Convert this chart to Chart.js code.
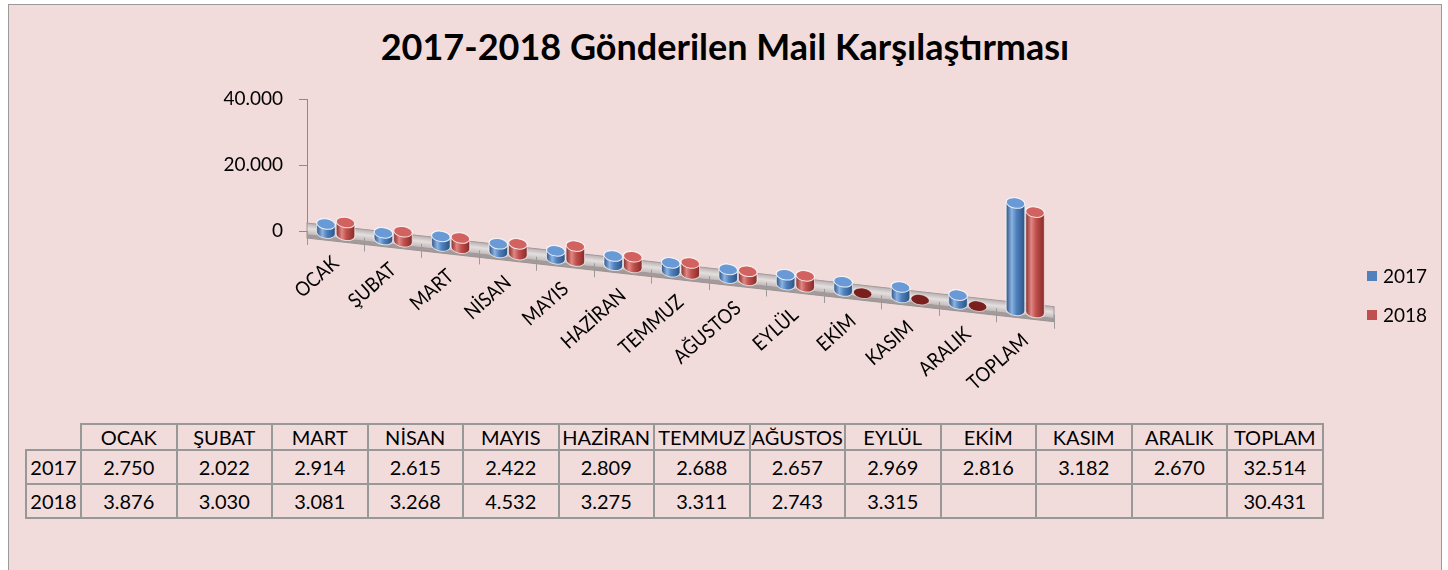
<!DOCTYPE html>
<html lang="tr">
<head>
<meta charset="utf-8">
<script src="https://cdn.jsdelivr.net/npm/chart.js@4/dist/chart.umd.min.js"></script>
<style>
    html, body { margin: 0; padding: 0; background: #ffffff; }
    body { width: 1448px; height: 570px; position: relative; overflow: hidden; font-family: Lato, sans-serif; }
    #cerceve { position: absolute; left: 8px; top: 4px; width: 1434px; height: 600px; background: #F2DCDB; border: 1px solid #9a9a9a; box-sizing: border-box; }
    #baslik { position: absolute; left: 0; width: 1450px; top: 24px; text-align: center; font-size: 36px; font-weight: bold; line-height: 44px; color: #000; }
    #grafik { position: absolute; left: 0; top: 0; }
    #lejant { position: absolute; left: 1367px; top: 256px; font-size: 19px; color: #000; }
    .lejant-satir { height: 39px; display: flex; align-items: center; }
    .lejant-kutu { width: 10px; height: 10px; margin-right: 6px; }
    #tablo { position: absolute; left: 25px; top: 423px; border-collapse: collapse; table-layout: fixed; font-size: 20px; color: #000; }
    #tablo td { border: 2px solid #989898; text-align: center; padding: 0; white-space: nowrap; overflow: hidden; }
    #tablo tr.baslik td { height: 24px; }
    #tablo tr.veri td { height: 32px; }
    #tablo td.bos { border-top: none; border-left: none; }
</style>
</head>
<body>
<div id="cerceve"></div>
<div id="baslik">2017-2018 Gönderilen Mail Karşılaştırması</div>
<canvas id="grafik" width="1448" height="420"></canvas>
<div id="lejant"></div>
<table id="tablo"></table>

<script>
// aylik gonderilen mail sayilari (tablodan okundu)
const kategoriler = ["OCAK", "ŞUBAT", "MART", "NİSAN", "MAYIS", "HAZİRAN", "TEMMUZ", "AĞUSTOS", "EYLÜL", "EKİM", "KASIM", "ARALIK", "TOPLAM"];
const mail2017 = [2750, 2022, 2914, 2615, 2422, 2809, 2688, 2657, 2969, 2816, 3182, 2670, 32514];
const mail2018 = [3876, 3030, 3081, 3268, 4532, 3275, 3311, 2743, 3315, null, null, null, 30431];
const yillar = ["2017", "2018"];
const yTikleri = [0, 20000, 40000];

const renkler = [
    { ana: "#4F81BD", acik: "#8DB3E2", koyu: "#2C5385", kapak: "#6A9AD6" },
    { ana: "#C0504D", acik: "#E08784", koyu: "#862B29", kapak: "#D2625F" }
];

// 3B zemin egimi
const EGIM = 0.112;

function sayiBicimle(deger) {
    if (deger === null || deger === undefined) return "";
    return String(deger).replace(/\B(?=(\d{3})+(?!\d))/g, ".");
}

function zeminCiz(ctx, alan) {
    const ust = alan.bottom - 8;
    const alt = alan.bottom + 3;
    const g = ctx.createLinearGradient(0, ust, 0, alt);
    g.addColorStop(0, "#b9b0b0");
    g.addColorStop(0.5, "#e4dede");
    g.addColorStop(1, "#c4bcbc");
    ctx.fillStyle = g;
    ctx.fillRect(alan.left, ust, alan.right - alan.left, alt - ust);
    ctx.fillStyle = "#a39b9b";
    ctx.fillRect(alan.left, alt, alan.right - alan.left, 4);
    ctx.strokeStyle = "#9d9595";
    ctx.lineWidth = 1;
    ctx.strokeRect(alan.left, ust, alan.right - alan.left, alt + 4 - ust);
}

function silindirCiz(ctx, x, w, ust, taban, renk) {
    const r = w / 2;
    const ry = w * 0.28;
    const g = ctx.createLinearGradient(x - r, 0, x + r, 0);
    g.addColorStop(0, renk.koyu);
    g.addColorStop(0.3, renk.acik);
    g.addColorStop(0.55, renk.ana);
    g.addColorStop(1, renk.koyu);

    ctx.beginPath();
    ctx.moveTo(x - r, ust);
    ctx.lineTo(x - r, taban);
    ctx.ellipse(x, taban, r, ry, 0, Math.PI, 0, true);
    ctx.lineTo(x + r, ust);
    ctx.ellipse(x, ust, r, ry, 0, 0, Math.PI, true);
    ctx.closePath();
    ctx.fillStyle = g;
    ctx.fill();
    ctx.strokeStyle = "rgba(255,255,255,0.7)";
    ctx.lineWidth = 1;
    ctx.stroke();

    ctx.beginPath();
    ctx.ellipse(x, ust, r, ry, 0, 0, Math.PI * 2);
    ctx.fillStyle = renk.kapak;
    ctx.fill();
    ctx.strokeStyle = "rgba(255,255,255,0.85)";
    ctx.stroke();
}

function diskCiz(ctx, x, w, taban) {
    ctx.beginPath();
    ctx.ellipse(x, taban, w / 2, w * 0.28, 0, 0, Math.PI * 2);
    ctx.fillStyle = "#7a1f1e";
    ctx.fill();
    ctx.strokeStyle = "rgba(255,255,255,0.6)";
    ctx.lineWidth = 1;
    ctx.stroke();
}

const silindirPlugin = {
    id: "silindir",
    beforeDatasetsDraw(chart) {
        const { ctx, chartArea } = chart;
        ctx.save();
        ctx.transform(1, EGIM, 0, 1, 0, -EGIM * chartArea.left);
        zeminCiz(ctx, chartArea);
    },
    afterDatasetsDraw(chart) {
        const ctx = chart.ctx;
        const taban = chart.scales.y.getPixelForValue(0);
        chart.data.datasets.forEach((ds, i) => {
            chart.getDatasetMeta(i).data.forEach((bar, j) => {
                if (ds.data[j] === null) {
                    diskCiz(ctx, bar.x, bar.width, taban);
                } else {
                    silindirCiz(ctx, bar.x, bar.width, bar.y, taban, renkler[i]);
                }
            });
        });
    },
    afterDraw(chart) {
        chart.ctx.restore();
    }
};

function lejantOlustur() {
    const lejant = document.getElementById("lejant");
    yillar.forEach((yil, i) => {
        const satir = document.createElement("div");
        satir.className = "lejant-satir";
        satir.innerHTML = '<span class="lejant-kutu" style="background:' + renkler[i].ana + '"></span>' + yil;
        lejant.appendChild(satir);
    });
}

function tabloOlustur() {
    const tablo = document.getElementById("tablo");
    const colgroup = document.createElement("colgroup");
    colgroup.innerHTML = '<col style="width:55px">' + kategoriler.map(() => '<col style="width:95.5px">').join("");
    tablo.appendChild(colgroup);

    const baslik = document.createElement("tr");
    baslik.className = "baslik";
    baslik.innerHTML = '<td class="bos"></td>' + kategoriler.map(k => "<td>" + k + "</td>").join("");
    tablo.appendChild(baslik);

    [mail2017, mail2018].forEach((seri, i) => {
        const tr = document.createElement("tr");
        tr.className = "veri";
        tr.innerHTML = "<td>" + yillar[i] + "</td>" + seri.map(v => "<td>" + sayiBicimle(v) + "</td>").join("");
        tablo.appendChild(tr);
    });
}

function grafikCiz() {
    const ctx = document.getElementById("grafik");
    new Chart(ctx, {
        type: "bar",
        data: {
            labels: kategoriler,
            datasets: [
                { label: yillar[0], data: mail2017, backgroundColor: renkler[0].ana },
                { label: yillar[1], data: mail2018, backgroundColor: renkler[1].ana }
            ]
        },
        options: {
            responsive: false,
            animation: false,
            devicePixelRatio: 1,
            categoryPercentage: 0.68,
            barPercentage: 0.95,
            layout: { padding: { left: 197, right: 394, top: 99, bottom: 89 } },
            plugins: {
                legend: { display: false },
                tooltip: { enabled: false },
                title: { display: false }
            },
            scales: {
                x: {
                    afterFit: scale => { scale.height = 100; },
                    grid: { display: true, drawOnChartArea: false, drawTicks: true, tickLength: 14, color: "#9a9a9a", z: 1 },
                    border: { display: false, z: 1 },
                    ticks: {
                        autoSkip: false,
                        minRotation: 45,
                        maxRotation: 45,
                        padding: 4,
                        color: "#000",
                        font: { family: "Lato", size: 19 },
                        z: 1
                    }
                },
                y: {
                    min: yTikleri[0],
                    max: yTikleri[yTikleri.length - 1],
                    afterFit: scale => { scale.width = 110; },
                    afterBuildTicks: scale => { scale.ticks = yTikleri.map(v => ({ value: v })); },
                    grid: { display: true, drawOnChartArea: false, drawTicks: true, tickLength: 8, color: "#8a8a8a" },
                    border: { display: true, color: "#8a8a8a" },
                    ticks: {
                        padding: 16,
                        color: "#000",
                        font: { family: "Lato", size: 19 },
                        callback: v => sayiBicimle(v)
                    }
                }
            }
        },
        plugins: [silindirPlugin]
    });
}

document.addEventListener("DOMContentLoaded", () => {
    lejantOlustur();
    tabloOlustur();
    grafikCiz();
});
</script>
</body>
</html>
